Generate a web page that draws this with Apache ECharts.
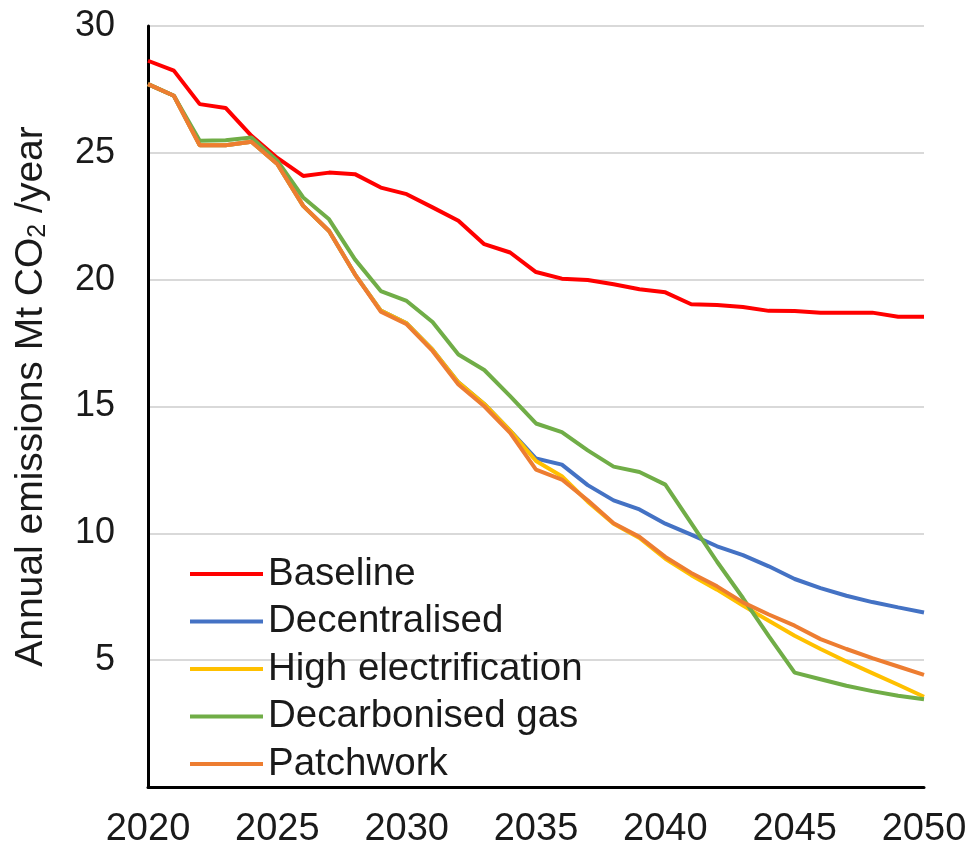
<!DOCTYPE html>
<html>
<head>
<meta charset="utf-8">
<script src="https://cdn.jsdelivr.net/npm/echarts@6/dist/echarts.min.js"></script>
<style>
html,body{margin:0;padding:0;background:#fff;}
#chart{width:970px;height:852px;}
</style>
</head>
<body>
<div id="chart"></div>
<script>
const years = [];
for (let y = 2020; y <= 2050; y++) years.push(String(y));

const seriesNames = ["Baseline", "Decentralised", "High electrification", "Decarbonised gas", "Patchwork"];

const baseline = [28.63, 28.24, 26.92, 26.77, 25.67, 24.8, 24.09, 24.22, 24.16, 23.63,
  23.37, 22.85, 22.32, 21.4, 21.07, 20.3, 20.04, 19.99, 19.82, 19.62,
  19.5, 19.03, 19.0, 18.92, 18.77, 18.76, 18.7, 18.7, 18.7, 18.54, 18.54];

const decentralised = [27.71, 27.25, 25.3, 25.3, 25.44, 24.56, 22.91, 21.92, 20.21, 18.78,
  18.28, 17.24, 15.95, 15.1, 14.05, 12.95, 12.71, 11.9, 11.3, 10.94,
  10.38, 9.95, 9.49, 9.14, 8.7, 8.2, 7.84, 7.54, 7.29, 7.08, 6.88];

const highElectrification = [27.71, 27.25, 25.3, 25.3, 25.44, 24.56, 22.91, 21.92, 20.21, 18.78,
  18.28, 17.24, 15.95, 15.1, 14.05, 12.85, 12.25, 11.25, 10.38, 9.82,
  9.0, 8.35, 7.78, 7.15, 6.55, 5.96, 5.44, 4.95, 4.49, 4.03, 3.56];

const decarbonisedGas = [27.71, 27.25, 25.48, 25.5, 25.6, 24.69, 23.24, 22.38, 20.8, 19.55,
  19.16, 18.33, 17.05, 16.44, 15.41, 14.33, 13.99, 13.27, 12.63, 12.42,
  11.92, 10.4, 8.88, 7.45, 5.95, 4.51, 4.25, 3.99, 3.78, 3.6, 3.46];

const patchwork = [27.71, 27.25, 25.3, 25.3, 25.44, 24.56, 22.91, 21.92, 20.21, 18.74,
  18.24, 17.19, 15.87, 15.01, 13.96, 12.51, 12.12, 11.3, 10.4, 9.86,
  9.07, 8.44, 7.91, 7.28, 6.8, 6.36, 5.83, 5.44, 5.08, 4.75, 4.42];

const colors = ["#ff0000", "#4472c4", "#ffc000", "#70ad47", "#ed7d31"];
const values = [baseline, decentralised, highElectrification, decarbonisedGas, patchwork];

const FONT = "'Liberation Sans', Arial, sans-serif";

const chart = echarts.init(document.getElementById('chart'), null, {renderer: 'canvas'});
chart.setOption({
  animation: false,
  backgroundColor: '#ffffff',
  textStyle: {fontFamily: FONT},
  grid: {left: 148, right: 46, top: 26, bottom: 65, containLabel: false, outerBoundsMode: 'none'},
  legend: {
    orient: 'vertical',
    left: 190,
    top: 554,
    padding: 0,
    icon: 'rect',
    itemWidth: 73,
    itemHeight: 4,
    itemGap: 7.5,
    textStyle: {fontFamily: FONT, fontSize: 38.5, color: '#1a1a1a', lineHeight: 40},
    data: seriesNames
  },
  xAxis: {
    type: 'category',
    data: years,
    boundaryGap: false,
    axisLine: {show: true, lineStyle: {color: '#000', width: 3}},
    axisTick: {show: false},
    axisLabel: {interval: 4, fontSize: 38, color: '#1a1a1a', margin: 24, fontFamily: FONT},
    splitLine: {show: false}
  },
  yAxis: {
    type: 'value',
    min: 0,
    max: 30,
    interval: 5,
    axisLine: {show: true, lineStyle: {color: '#000', width: 3}},
    axisTick: {show: false},
    axisLabel: {
      fontSize: 36, color: '#1a1a1a', margin: 33, fontFamily: FONT,
      formatter: v => (v === 0 ? '' : String(v))
    },
    splitLine: {show: true, lineStyle: {color: '#d9d9d9', width: 2}},
    name: 'Annual emissions Mt CO{s|2} /year',
    nameLocation: 'middle',
    nameGap: 97,
    nameRotate: 90,
    nameTextStyle: {
      fontSize: 39, color: '#1a1a1a', fontFamily: FONT,
      padding: [0, 0, 0, 20],
      rich: {
        s: {fontSize: 25, color: '#1a1a1a', fontFamily: FONT, verticalAlign: 'bottom'}
      }
    }
  },
  series: seriesNames.map((n, i) => ({
    name: n,
    type: 'line',
    data: values[i],
    symbol: 'none',
    smooth: false,
    lineStyle: {color: colors[i], width: 4},
    itemStyle: {color: colors[i]},
    z: 2 + i
  }))
});
</script>
</body>
</html>
